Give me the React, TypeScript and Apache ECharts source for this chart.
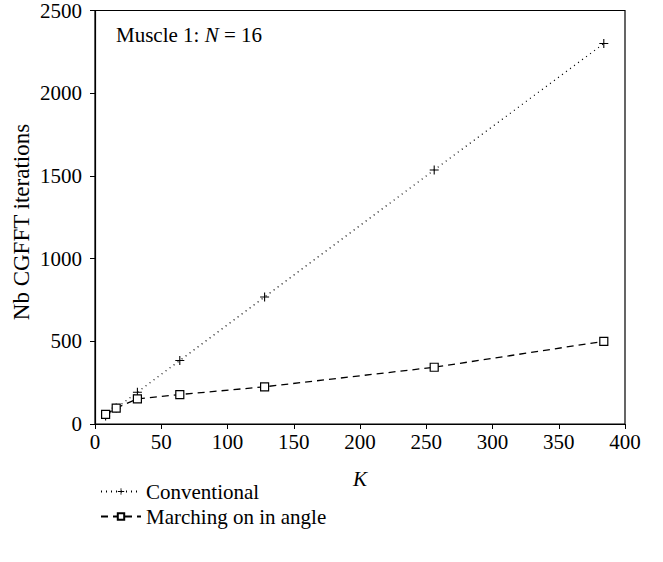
import React, { useEffect, useRef } from "react";
import * as echarts from "echarts";

const kValues = [8, 16, 32, 64, 128, 256, 384];
const conventional = [48, 96, 192, 384, 768, 1536, 2300];
const marching = [58, 96, 152, 178, 225, 343, 500];
const seriesNames = ["Conventional", "Marching on in angle"];

const FONT = "'Liberation Serif', 'DejaVu Serif', serif";
const PLUS = "path://M4.4,0H5.6V4.4H10V5.6H5.6V10H4.4V5.6H0V4.4H4.4Z";

export default function App() {
  const ref = useRef<HTMLDivElement>(null);
  useEffect(() => {
    document.body.style.margin = "0";
    const chart = echarts.init(ref.current!, null, { renderer: "svg" });
    chart.setOption({
      animation: false,
      backgroundColor: "#fff",
      textStyle: { fontFamily: FONT },
      grid: {
        left: 95,
        right: 38,
        top: 7,
        bottom: 138,
        show: true,
        borderColor: "#000",
        borderWidth: 1.2,
        containLabel: false,
      },
      xAxis: {
        type: "value",
        min: 0,
        max: 400,
        interval: 50,
        name: "K",
        nameLocation: "middle",
        nameGap: 44,
        nameTextStyle: { fontFamily: FONT, fontSize: 21, fontStyle: "italic", color: "#000" },
        axisLine: { show: true, lineStyle: { color: "#000", width: 1.2 } },
        axisTick: { show: true, inside: false, length: 5, lineStyle: { color: "#000" } },
        axisLabel: { fontFamily: FONT, fontSize: 21, color: "#000", margin: 7, formatter: (v: number) => String(v) },
        splitLine: { show: false },
      },
      yAxis: {
        type: "value",
        min: 0,
        max: 2500,
        interval: 500,
        axisLine: { show: true, lineStyle: { color: "#000", width: 1.2 } },
        axisTick: { show: true, inside: false, length: 5, lineStyle: { color: "#000" } },
        axisLabel: { fontFamily: FONT, fontSize: 21, color: "#000", margin: 13, formatter: (v: number) => String(v) },
        splitLine: { show: false },
      },
      legend: {
        orient: "vertical",
        left: 95,
        top: 476,
        itemWidth: 40,
        itemHeight: 8,
        itemGap: 4,
        textStyle: { fontFamily: FONT, fontSize: 21, color: "#000" },
        data: seriesNames,
      },
      graphic: [
        {
          type: "text",
          left: 116,
          top: 24,
          style: {
            text: "{a|Muscle 1: }{b|N}{a| = 16}",
            rich: {
              a: { fontFamily: FONT, fontSize: 21, fill: "#000" },
              b: { fontFamily: FONT, fontSize: 21, fontStyle: "italic", fill: "#000" },
            },
          },
        },
        {
          type: "text",
          x: 21,
          y: 222,
          rotation: Math.PI / 2,
          style: {
            text: "Nb CGFFT iterations",
            fontFamily: FONT,
            fontSize: 23,
            fill: "#000",
            align: "center",
            verticalAlign: "middle",
          },
        },
      ],
      series: [
        {
          name: seriesNames[0],
          type: "line",
          data: kValues.map((k, i) => [k, conventional[i]]),
          symbol: PLUS,
          symbolSize: 9,
          showAllSymbol: true,
          itemStyle: { color: "#000", borderWidth: 0 },
          lineStyle: { color: "#000", width: 1.3, type: [1, 4] },
        },
        {
          name: seriesNames[1],
          type: "line",
          data: kValues.map((k, i) => [k, marching[i]]),
          symbol: "rect",
          symbolSize: 8,
          showAllSymbol: true,
          itemStyle: { color: "#fff", borderColor: "#000", borderWidth: 1.2 },
          lineStyle: { color: "#000", width: 1.3, type: [7, 5] },
        },
      ],
    });
    return () => chart.dispose();
  }, []);
  return <div ref={ref} style={{ width: 663, height: 562 }} />;
}
